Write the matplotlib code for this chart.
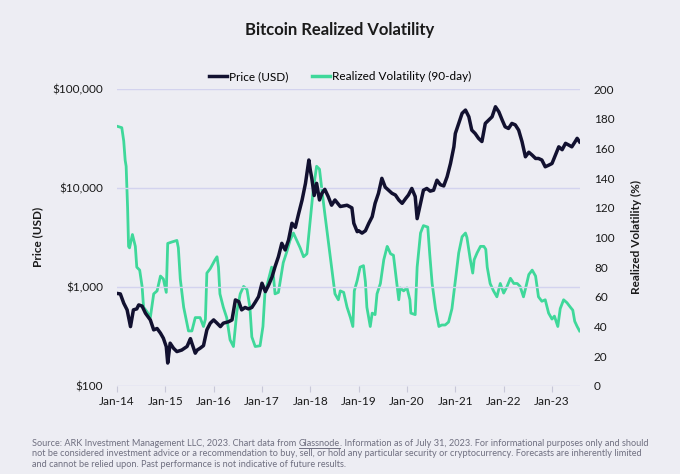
import matplotlib
matplotlib.use("Agg")
import matplotlib.pyplot as plt
from matplotlib.lines import Line2D
import numpy as np

# ---- data (decimal years) ----
price_t = [2014.00, 2014.07, 2014.14, 2014.21, 2014.28, 2014.34, 2014.41, 2014.45, 2014.52, 2014.59,
           2014.69, 2014.76, 2014.83, 2014.90, 2014.96, 2015.02, 2015.05, 2015.10, 2015.17, 2015.24,
           2015.34, 2015.45, 2015.52, 2015.55, 2015.62, 2015.66, 2015.72, 2015.79, 2015.86, 2015.93,
           2016.00, 2016.07, 2016.14, 2016.20, 2016.31, 2016.38, 2016.45, 2016.52, 2016.58, 2016.65,
           2016.72, 2016.79, 2016.86, 2016.93, 2017.00, 2017.07, 2017.14, 2017.21, 2017.27, 2017.34,
           2017.41, 2017.48, 2017.55, 2017.62, 2017.69, 2017.76, 2017.83, 2017.90, 2017.97, 2018.00,
           2018.03, 2018.08, 2018.13, 2018.19, 2018.24, 2018.30, 2018.37, 2018.44, 2018.51, 2018.62,
           2018.76, 2018.86, 2018.90, 2018.97, 2019.00, 2019.07, 2019.14, 2019.21, 2019.28, 2019.34,
           2019.41, 2019.48, 2019.55, 2019.62, 2019.69, 2019.76, 2019.83, 2019.90, 2019.97, 2020.03,
           2020.10, 2020.17, 2020.21, 2020.28, 2020.34, 2020.41, 2020.48, 2020.55, 2020.62, 2020.69,
           2020.76, 2020.83, 2020.90, 2020.97, 2021.00, 2021.07, 2021.14, 2021.21, 2021.28, 2021.34,
           2021.41, 2021.48, 2021.55, 2021.62, 2021.69, 2021.76, 2021.83, 2021.90, 2021.97, 2022.03,
           2022.10, 2022.17, 2022.24, 2022.31, 2022.38, 2022.45, 2022.52, 2022.59, 2022.66, 2022.72,
           2022.79, 2022.86, 2022.93, 2023.00, 2023.07, 2023.14, 2023.21, 2023.28, 2023.34, 2023.41,
           2023.48, 2023.52, 2023.57]
price_usd = [860, 850, 685, 586, 397, 586, 600, 658, 640, 542,
             464, 368, 380, 341, 303, 249, 170, 270, 240, 222,
             230, 250, 300, 270, 214, 230, 240, 255, 368, 430,
             464, 430, 397, 430, 445, 464, 739, 710, 586, 620,
             600, 620, 700, 798, 1090, 897, 1050, 1270, 1600, 2020,
             2760, 2365, 2985, 4400, 4000, 5550, 7570, 11150, 19200, 15150,
             12600, 8400, 11150, 7570, 8840, 9700, 8200, 6700, 7570, 6500,
             6700, 6300, 4400, 3620, 3700, 3500, 3700, 4400, 5130, 7000,
             8840, 12530, 10200, 9500, 8840, 8500, 7570, 7000, 7800, 8500,
             9900, 8200, 4900, 7000, 9500, 9900, 9300, 9500, 12000, 10800,
             10500, 13000, 17700, 26100, 35600, 45000, 56900, 61400, 52500, 38500,
             35600, 31800, 29500, 45000, 48600, 52500, 66300, 59000, 48600, 41600,
             40000, 45000, 43500, 38500, 29400, 20700, 23000, 21500, 19900, 19900,
             19200, 16400, 17000, 17700, 21500, 26100, 24400, 28300, 27300, 26100,
             29500, 31800, 29300]

vol_t = [2014.00, 2014.10, 2014.14, 2014.17, 2014.19, 2014.22, 2014.24, 2014.26, 2014.32, 2014.38,
         2014.41, 2014.47, 2014.52, 2014.55, 2014.62, 2014.69, 2014.76, 2014.83, 2014.90, 2014.96,
         2015.02, 2015.05, 2015.14, 2015.24, 2015.27, 2015.31, 2015.38, 2015.48, 2015.55, 2015.62,
         2015.72, 2015.79, 2015.83, 2015.86, 2015.93, 2016.03, 2016.07, 2016.10, 2016.13, 2016.20,
         2016.27, 2016.34, 2016.41, 2016.48, 2016.55, 2016.62, 2016.69, 2016.75, 2016.79, 2016.86,
         2016.96, 2017.02, 2017.06, 2017.13, 2017.20, 2017.24, 2017.27, 2017.34, 2017.37, 2017.44,
         2017.51, 2017.58, 2017.65, 2017.72, 2017.79, 2017.86, 2017.93, 2018.00, 2018.06, 2018.13,
         2018.19, 2018.24, 2018.30, 2018.37, 2018.44, 2018.51, 2018.58, 2018.62, 2018.69, 2018.76,
         2018.83, 2018.88, 2018.91, 2018.97, 2019.03, 2019.10, 2019.14, 2019.17, 2019.24, 2019.28,
         2019.34, 2019.38, 2019.45, 2019.52, 2019.59, 2019.62, 2019.66, 2019.72, 2019.79, 2019.83,
         2019.86, 2019.93, 2020.00, 2020.06, 2020.08, 2020.17, 2020.21, 2020.28, 2020.34, 2020.43,
         2020.47, 2020.52, 2020.59, 2020.66, 2020.72, 2020.79, 2020.86, 2020.93, 2021.00, 2021.07,
         2021.14, 2021.21, 2021.24, 2021.31, 2021.36, 2021.39, 2021.45, 2021.52, 2021.59, 2021.63,
         2021.66, 2021.72, 2021.79, 2021.86, 2021.93, 2022.00, 2022.07, 2022.14, 2022.21, 2022.28,
         2022.34, 2022.41, 2022.47, 2022.52, 2022.59, 2022.66, 2022.72, 2022.79, 2022.86, 2022.93,
         2023.00, 2023.05, 2023.12, 2023.17, 2023.24, 2023.31, 2023.38, 2023.43, 2023.47, 2023.52,
         2023.57]
vol_pct = [175, 174, 165, 152, 148, 120, 94, 93, 102, 94,
           80, 78, 67, 53, 50, 46, 62, 64, 74, 72,
           63, 96, 97, 98, 93, 72, 53, 37, 37, 46,
           46, 40, 45, 76, 79, 85, 87, 80, 62, 53,
           46, 31, 26.5, 50, 62, 67, 65, 53, 33, 26.5,
           27, 40, 62, 71, 80, 73, 62, 63, 69, 83,
           90, 98, 103, 98, 93, 87, 89, 112, 132, 148,
           146, 132, 116, 98, 80, 62, 58, 64, 63, 53,
           46, 40, 64, 71, 80, 81, 70, 53, 40, 49,
           48, 62, 69, 85, 94, 92, 89, 88, 69, 58,
           66, 64, 66, 58, 49, 48, 80, 103, 108, 107,
           89, 69, 52, 40, 41, 41, 43, 52, 71, 89.6,
           100.5, 103, 100, 85, 76, 85, 89.6, 94, 94, 92,
           80, 69, 64, 60, 69, 62.5, 67, 72.5, 69, 69,
           67, 60, 68, 75, 78, 74, 60, 57, 58, 49,
           45, 47, 40, 52, 58, 56, 53, 51, 43.5, 40,
           37]

xtick_years = [2014, 2015, 2016, 2017, 2018, 2019, 2020, 2021, 2022, 2023]
xtick_labels = ["Jan-14", "Jan-15", "Jan-16", "Jan-17", "Jan-18", "Jan-19",
                "Jan-20", "Jan-21", "Jan-22", "Jan-23"]
left_ticks = [100, 1000, 10000, 100000]
left_labels = ["$100", "$1,000", "$10,000", "$100,000"]
right_ticks = [0, 20, 40, 60, 80, 100, 120, 140, 160, 180, 200]

# ---- style ----
BG = "#ededf3"
NAVY = "#121130"
GREEN = "#3fd89a"
GRID = "#d3d3ee"
TXT = "#1a1a1a"
plt.rcParams['font.family'] = ['Lato', 'DejaVu Sans']

fig = plt.figure(figsize=(6.8, 4.74), dpi=100, facecolor=BG)
ax = fig.add_axes([0.172, 0.186, 0.681, 0.626])
ax.set_facecolor(BG)
ax2 = ax.twinx()

ax.set_yscale('log')
ax.set_ylim(100, 100000)
ax.set_xlim(2014.0, 2023.58)
ax2.set_ylim(0, 200)

for a in (ax, ax2):
    for s in a.spines.values():
        s.set_visible(False)

ax.set_yticks(left_ticks)
ax.set_yticklabels(left_labels)
ax.yaxis.set_minor_locator(matplotlib.ticker.NullLocator())
ax.grid(axis='y', color=GRID, linewidth=1.0)
ax.set_axisbelow(True)
ax.tick_params(axis='y', length=0, labelsize=8.5, colors=TXT, pad=10)
ax.set_xticks(xtick_years)
ax.set_xticklabels(xtick_labels)
ax.tick_params(axis='x', length=4, width=0.8, color="#c8c8d8", labelsize=8.5,
               labelcolor=TXT, pad=3)

ax2.set_yticks(right_ticks)
ax2.tick_params(axis='y', length=0, labelsize=8.5, colors=TXT, pad=10)

ax2.plot(vol_t, vol_pct, color=GREEN, linewidth=2.0, zorder=2)
ax.plot(price_t, price_usd, color=NAVY, linewidth=2.5, zorder=3)
ax.set_zorder(ax2.get_zorder() + 1)
ax.patch.set_visible(False)
ax2.patch.set_visible(False)

fig.text(38 / 680, 1 - 237 / 474, "Price (USD)", rotation=90, ha='center', va='center',
         fontsize=8.5, fontweight='bold', color=TXT)
fig.text(636 / 680, 1 - 237 / 474, "Realized Volatility (%)", rotation=90, ha='center',
         va='center', fontsize=8.5, fontweight='bold', color=TXT)

fig.text(0.5, 0.936, "Bitcoin Realized Volatility", ha='center', va='center',
         fontsize=12, fontweight='bold', color=TXT)

handles = [Line2D([], [], color=NAVY, linewidth=2.5),
           Line2D([], [], color=GREEN, linewidth=2.5)]
fig.legend(handles, ["Price (USD)", "Realized Volatility (90-day)"], loc='center',
           bbox_to_anchor=(0.5, 0.838), ncol=2, frameon=False, fontsize=8.5,
           handlelength=1.5, handletextpad=0.2, columnspacing=2.0)

# ---- footnote (font size fitted so the second line spans ~613 px) ----
FOOT = "#6f6f80"
renderer = fig.canvas.get_renderer()
line2 = ("not be considered investment advice or a recommendation to buy, sell, or hold any "
         "particular security or cryptocurrency. Forecasts are inherently limited")
probe = fig.text(0, 0, line2, fontsize=10)
w10 = probe.get_window_extent(renderer).width
probe.remove()
fs = 10 * 613 / w10

x0 = 32 / 680
y1 = 1 - 446 / 474
t1 = fig.text(x0, y1, "Source: ARK Investment Management LLC, 2023. Chart data from ",
              fontsize=fs, color=FOOT, va='baseline')
bb = t1.get_window_extent(renderer)
xg = bb.x1 / fig.bbox.width
t2 = fig.text(xg, y1, "Glassnode", fontsize=fs, color=FOOT, va='baseline')
bb2 = t2.get_window_extent(renderer)
xg2 = bb2.x1 / fig.bbox.width
fig.add_artist(Line2D([xg, xg2], [y1 - 0.005, y1 - 0.005], color=FOOT, linewidth=0.7))
fig.text(xg2, y1, ". Information as of July 31, 2023. For informational purposes only and should",
         fontsize=fs, color=FOOT, va='baseline')
fig.text(x0, 1 - 456.5 / 474, line2, fontsize=fs, color=FOOT, va='baseline')
fig.text(x0, 1 - 467 / 474, "and cannot be relied upon. Past performance is not indicative of future results.",
         fontsize=fs, color=FOOT, va='baseline')

fig.savefig("out.png", dpi=100, facecolor=BG)
